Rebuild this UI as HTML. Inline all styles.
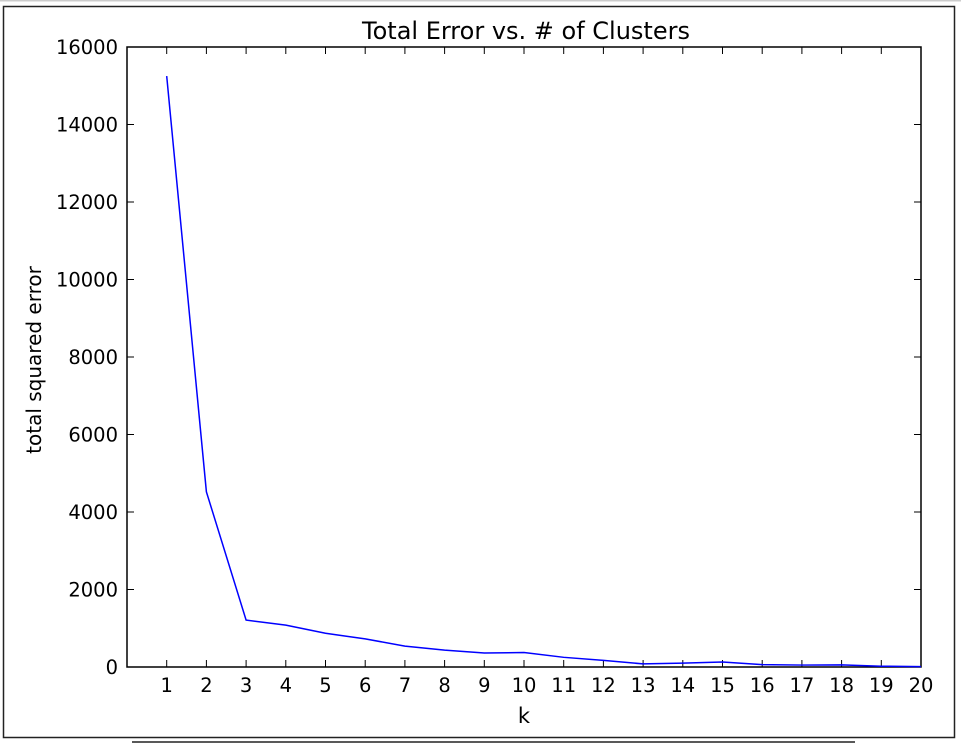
<!DOCTYPE html>
<html><head><meta charset="utf-8"><style>
body{margin:0;background:#fff;width:961px;height:743px;overflow:hidden}
svg{font-family:"DejaVu Sans","Liberation Sans",sans-serif}
</style></head><body>
<svg width="961" height="743">
<rect x="0" y="0" width="961" height="1.5" fill="#ccc"/>
<rect x="3.5" y="6.5" width="951" height="731" fill="none" stroke="#222" stroke-width="1.5"/>
<line x1="132" y1="742" x2="855" y2="742" stroke="#222" stroke-width="1.5"/>
<g id="plot"></g>
</svg>
<script>
const categories=[1,2,3,4,5,6,7,8,9,10,11,12,13,14,15,16,17,18,19,20];
const errorValues=[15250,4520,1210,1080,870,725,540,435,360,375,250,170,80,100,130,60,50,55,20,10];
const yTicks=[0,2000,4000,6000,8000,10000,12000,14000,16000];
const L=127,R=921,T=47,B=667;
const xs=v=>L+(v-0)/(20-0)*(R-L);
const ys=v=>B-v/16000*(B-T);
const g=document.getElementById('plot');
const NS='http://www.w3.org/2000/svg';
function mk(t,a){const e=document.createElementNS(NS,t);for(const k in a)e.setAttribute(k,a[k]);g.appendChild(e);return e;}
let e;
e=mk('rect',{x:L,y:T,width:R-L,height:B-T,fill:'none',stroke:'#000','stroke-width':1.5});


categories.forEach(c=>{
  const x=xs(c);
  e=mk('line',{x1:x,y1:B,x2:x,y2:B-7,stroke:'#000'});
  
  
  e=mk('line',{x1:x,y1:T,x2:x,y2:T+7,stroke:'#000'});
  
  
  e=mk('text',{x:x,y:B+25,'text-anchor':'middle','font-size':19.5,fill:'#000'});
  e.textContent=c;
  
  
});
yTicks.forEach(v=>{
  const y=ys(v);
  e=mk('line',{x1:L,y1:y,x2:L+7,y2:y,stroke:'#000'});
  
  
  e=mk('line',{x1:R,y1:y,x2:R-7,y2:y,stroke:'#000'});
  
  
  e=mk('text',{x:L-9,y:y+7,'text-anchor':'end','font-size':19.5,fill:'#000'});
  e.textContent=v;
  
  
});
e=mk('polyline',{points:categories.map((c,i)=>xs(c)+','+ys(errorValues[i])).join(' '),fill:'none',stroke:'#0000ff','stroke-width':1.5});


e=mk('text',{x:(L+R)/2+2,y:39,'text-anchor':'middle','font-size':24,fill:'#000'});
e.textContent='Total Error vs. # of Clusters';


e=mk('text',{x:(L+R)/2,y:723,'text-anchor':'middle','font-size':21,fill:'#000'});
e.textContent='k';


e=mk('text',{x:0,y:0,'text-anchor':'middle','font-size':20,fill:'#000',transform:'translate(41,360) rotate(-90)'});
e.textContent='total squared error';


</script>
</body></html>
